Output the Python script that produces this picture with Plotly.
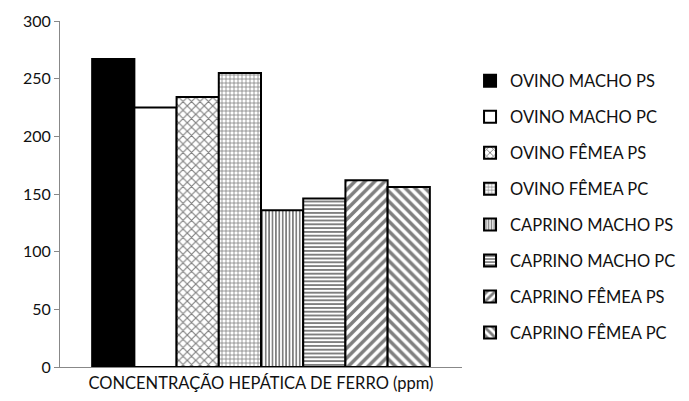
import plotly.graph_objects as go

categories = ["CONCENTRAÇÃO HEPÁTICA DE FERRO (ppm)"]
series_names = ["OVINO MACHO PS", "OVINO MACHO PC", "OVINO FÊMEA PS", "OVINO FÊMEA PC",
                "CAPRINO MACHO PS", "CAPRINO MACHO PC", "CAPRINO FÊMEA PS", "CAPRINO FÊMEA PC"]
series_values = [267, 225, 234, 255, 136, 146, 162, 156]
y_ticks = [0, 50, 100, 150, 200, 250, 300]

fills = ["black", "white", "white", "white", "white", "white", "white", "white"]
shapes = ["", "", "x", "+", "|", "-", "/", "\\"]
sizes = [8, 8, 6, 4, 3.4, 3.8, 7, 7]
solid = [0.3, 0.3, 0.35, 0.35, 0.5, 0.5, 0.5, 0.5]

fig = go.Figure()
for i, (name, val) in enumerate(zip(series_names, series_values)):
    fig.add_trace(go.Bar(
        x=[""], y=[val], name=name, legendgroup=f"g{i}",
        marker=dict(color=fills[i], line=dict(color="#000", width=2),
                    pattern=dict(shape=shapes[i], fgcolor="black", bgcolor=fills[i],
                                 size=sizes[i], solidity=solid[i])),
    ))

fig.update_layout(
    width=681, height=393,
    margin=dict(l=52, r=227, t=13, b=34, autoexpand=False),
    paper_bgcolor="white", plot_bgcolor="white",
    barmode="group", bargap=0.16, bargroupgap=0,
    font=dict(family="Lato, Open Sans, sans-serif", size=16, color="#111"),
    showlegend=True,
    legend=dict(x=0.02, xanchor="left", y=0.877, yanchor="top",
                traceorder="grouped", tracegroupgap=11.5,
                font=dict(size=16.5, color="#111"), bgcolor="rgba(0,0,0,0)"),
    xaxis=dict(showline=True, linecolor="#888", linewidth=1, showgrid=False,
               ticks="", showticklabels=False, automargin=False,
               title=dict(text=categories[0], font=dict(size=16.5, color="#111"), standoff=10)),
    yaxis=dict(range=[0, 300], tickvals=y_ticks, showline=True, linecolor="#888",
               linewidth=1, ticks="outside", ticklen=5, tickcolor="#888",
               showgrid=False, zeroline=False, automargin=False,
               tickfont=dict(size=16, color="#111")),
)
fig.update_layout(legend_x=1.02)

fig.write_html("out.html")
